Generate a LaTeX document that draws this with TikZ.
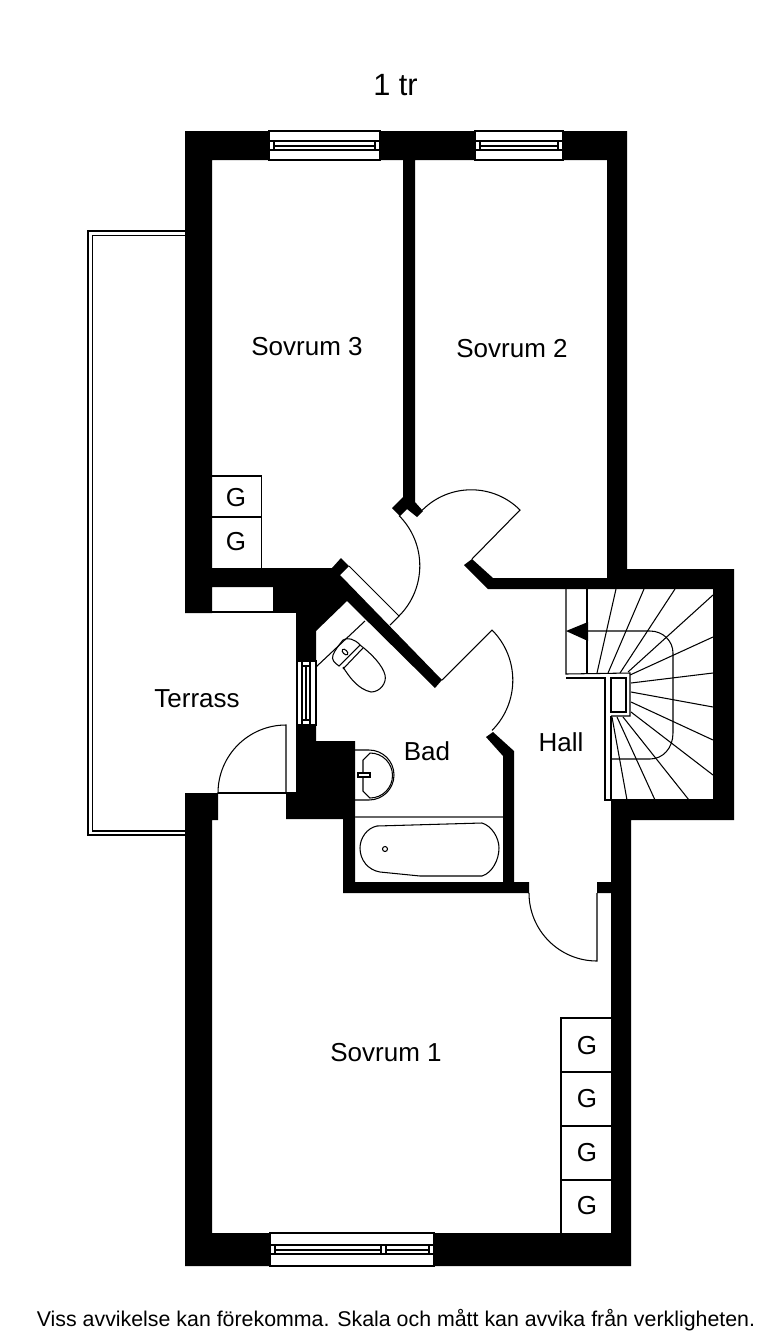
\documentclass[tikz,border=0pt]{standalone}
\usepackage{fontspec}
\setmainfont{Liberation Sans}
\usetikzlibrary{positioning}
\tikzset{
    wall/.style={fill=black, draw=none},
    thinline/.style={draw=black, line width=0.6pt},
    glass/.style={draw=black, fill=white, line width=0.6pt},
    roomlabel/.style={inner sep=0pt, font=\fontsize{14.8}{16}\selectfont},
    closetlabel/.style={inner sep=0pt, font=\fontsize{14.8}{16}\selectfont}
}

\begin{document}
\begin{tikzpicture}[x=0.02cm, y=-0.02cm]
    \useasboundingbox (0,0) rectangle (783,1339);

    % Terrace railing
    \draw[thinline] (185,231) -- (88,231) -- (88,835) -- (185,835);
    \draw[thinline] (185,235.5) -- (92.5,235.5) -- (92.5,831) -- (185,831);

    % Outer and lower walls
    \fill[wall] (185,131) -- (627,131) -- (627,569) -- (734,569) -- (734,820) -- (631,820)
        -- (631,1266) -- (185,1266) -- (185,793) -- (218,793) -- (218,820) -- (212,820)
        -- (212,1233) -- (611,1233) -- (611,893) -- (597,893) -- (597,882) -- (611,882)
        -- (611,800) -- (713,800) -- (713,589) -- (488,589) -- (464,565) -- (472,559)
        -- (493,578) -- (607,578) -- (607,160) -- (415,160) -- (415,502) -- (423,511)
        -- (417,517) -- (407,509) -- (400,516) -- (392,508) -- (403,497) -- (403,160)
        -- (212,160) -- (212,568) -- (332,568) -- (341,558) -- (349,566) -- (340,575)
        -- (442,680) -- (435,688) -- (347,601) -- (316,631) -- (316,661) -- (296,661)
        -- (296,612) -- (273,612) -- (273,587) -- (212,587) -- (212,613) -- (185,613) -- cycle;
    % Bathroom walls
    \fill[wall] (296,725) -- (316,725) -- (316,741) -- (355,741) -- (355,882) -- (503,882)
        -- (503,756) -- (486,737) -- (493,732) -- (514,751) -- (514,882) -- (529,882)
        -- (529,893) -- (343,893) -- (343,819) -- (286,819) -- (286,793) -- (296,793) -- cycle;

    % Windows
    \foreach \xa/\xb in {269/380, 475/563} {
        \draw[glass] (\xa,131) rectangle (\xb,160);
        \draw[thinline] (\xa,141) rectangle (\xb,150);
        \draw[thinline] (\xa+5,141) -- (\xa+5,150) (\xb-5,141) -- (\xb-5,150);
        \draw[thinline] (\xa+5,146) -- (\xb-5,146);
    }
    \draw[glass] (270,1233) rectangle (434,1266);
    \draw[thinline] (270,1245) rectangle (434,1254);
    \foreach \xv in {275,381,386,429} {
        \draw[thinline] (\xv,1245) -- (\xv,1254);
    }
    \draw[thinline] (275,1250) -- (381,1250) (386,1250) -- (429,1250);
    \draw[glass] (297,661) rectangle (316,725);
    \draw[thinline] (302,661) -- (302,725) (310,661) -- (310,725);
    \draw[thinline] (302,666) -- (310,666) (302,720) -- (310,720) (306,666) -- (306,720);

    % Doors
    \draw[thinline] (349,566) -- (399,616) -- (390,625);
    \draw[thinline] (399,616) arc[start angle=45, end angle=-45, radius=71];
    \draw[thinline] (472,559) -- (520,510) arc[start angle=-45, end angle=-135, radius=69];
    \draw[thinline] (442,680) -- (492,630) arc[start angle=-45, end angle=45, radius=71];
    \draw[thinline] (597,893) -- (597,961) arc[start angle=90, end angle=180, radius=68];
    \draw[thinline] (286,793) -- (286,725) arc[start angle=-90, end angle=-180, radius=68];
    \draw[thinline] (218,793) -- (296,793);
    \draw[thinline] (212,612) -- (296,612);

    % Wardrobes
    \draw[thinline] (212,476) -- (261.5,476) -- (261.5,568) (212,517) -- (261.5,517);
    \node[closetlabel] (closetc) at (236,497.5) {G};
    \node[closetlabel] (closetd) at (236,541.5) {G};
    \draw[thinline] (611,1018) -- (561,1018) -- (561,1233);
    \foreach \yc/\yt in {1072/1045.5, 1126/1098.5, 1180/1152.5} {
        \draw[thinline] (561,\yc) -- (611,\yc);
        \node[closetlabel] at (587,\yt) {G};
    }
    \node[closetlabel] (closetb) at (587,1205.5) {G};

    % Toilet
    \draw[thinline] (316,667) -- (365,621);
    \draw[thinline] (339,666) .. controls (335,663) and (331,660) .. (333,655)
        .. controls (335,650) and (339,645) .. (343,640) .. controls (347,637) and (355,639) .. (360,645) -- cycle;
    \draw[thinline] (343,669) -- (363,648);
    \draw[thinline] (343,667) .. controls (350,678) and (358,689) .. (371,692)
        .. controls (380,692) and (387,683) .. (385,675) .. controls (383,666) and (372,654) .. (360,645);
    \draw[thinline, rotate around={-45:(345,652)}] (345,652) ellipse (3.5 and 2);

    % Basin
    \draw[thinline] (355,750) -- (369,750) arc[start angle=-90, end angle=90, radius=25] -- (355,800);
    \draw[thinline] (363,760) -- (370,753) arc[start angle=-90, end angle=90, radius=22.5] -- (363,791) -- cycle;
    \draw[thinline, fill=white] (358,773) rectangle (370,777);

    % Bath
    \draw[thinline, draw=black!60] (355,817) -- (503,817);
    \draw[thinline] (377,826) -- (482,823) .. controls (492,826) and (499,838) .. (499,848)
        .. controls (499,860) and (492,873) .. (482,876) -- (420,876) -- (380,872)
        .. controls (368,870) and (360,860) .. (360,848) .. controls (360,838) and (367,828) .. (377,826) -- cycle;
    \draw[thinline] (385,849) circle (2.5);

    % Stairs
    \draw[thinline] (566,589) -- (566,674) -- (630,673) -- (630,716) -- (611,716);
    \draw[thinline] (587,589) -- (587,674);
    \draw[thinline] (566,678) -- (605,678) -- (605,800) -- (713,800);
    \draw[thinline] (611,716) -- (611,800);
    \draw[thinline] (611,678) rectangle (626,712);
    \foreach \xi/\yi/\xo/\yo in {597/673/616/589, 608/673/644/589, 620/673/675/589, 628/672/713/595,
        630/675/713/637, 631/683/713/673, 631/692/713/707, 631/702/713/740, 631/712/713/775,
        623/717/689/800, 617/717/655/800, 612/717/627/800} {
        \draw[thinline] (\xi,\yi) -- (\xo,\yo);
    }
    \draw[thinline] (587,631) -- (650,631) .. controls (663,631) and (673,641) .. (673,653) -- (673,733)
        .. controls (673,748) and (663,759) .. (650,759) -- (611,759);
    \fill[black] (566,631) -- (588,622) -- (588,641) -- cycle;

    % Labels
    \node[roomlabel] (sovrumc) at (307,347) {Sovrum 3};
    \node[roomlabel] (sovrumb) at (512,349) {Sovrum 2};
    \node[roomlabel] (sovruma) at (386,1053) {Sovrum 1};
    \node[roomlabel] (terrass) at (197,699) {Terrass};
    \node[roomlabel] (bad) at (427,751) {Bad};
    \node[roomlabel] (hall) at (561,742) {Hall};
    \node[inner sep=0pt, font=\fontsize{17.5}{19}\selectfont] (floor) at (395.5,85) {1 tr};
    \node[inner sep=0pt, font=\fontsize{12.15}{14}\selectfont] (disclaimer) at (396,1320.5)
        {Viss avvikelse kan förekomma. Skala och mått kan avvika från verkligheten.};
\end{tikzpicture}
\end{document}
